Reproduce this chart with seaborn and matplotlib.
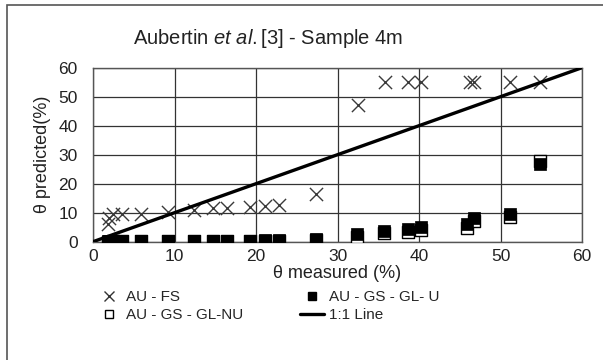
import matplotlib
matplotlib.use("Agg")
import matplotlib.pyplot as plt
import seaborn as sns
import pandas as pd
from matplotlib.lines import Line2D
from matplotlib.patches import Rectangle

# Data
fs_x = [1.8, 2.0, 2.4, 3.6, 5.9, 9.2, 12.4, 14.7, 16.4, 19.3, 21.1, 22.8, 27.4,
        32.5, 35.8, 38.7, 40.2, 46.2, 46.8, 51.2, 54.8]
fs_y = [6.0, 8.3, 9.4, 9.4, 9.4, 10.3, 10.8, 11.7, 11.7, 12.0, 12.3, 12.6, 16.6,
        47.0, 55.0, 55.0, 55.0, 55.0, 55.0, 55.0, 55.0]
u_x = [1.8, 2.0, 2.4, 3.6, 5.9, 9.2, 12.4, 14.7, 16.4, 19.3, 21.1, 22.8, 27.4,
       32.4, 35.7, 38.7, 40.2, 45.9, 46.8, 51.2, 54.8]
u_y = [0.2, 0.2, 0.3, 0.3, 0.3, 0.3, 0.3, 0.3, 0.3, 0.4, 0.5, 0.5, 1.1,
       2.5, 3.8, 4.5, 5.2, 6.0, 8.0, 9.5, 26.8]
nu_x = [1.8, 2.0, 2.4, 3.6, 5.9, 9.2, 12.4, 14.7, 16.4, 19.3, 21.1, 22.8, 27.4,
        32.4, 35.7, 38.7, 40.2, 45.9, 46.8, 51.2, 54.8]
nu_y = [0.0, 0.0, 0.1, 0.1, 0.1, 0.1, 0.1, 0.1, 0.1, 0.2, 0.2, 0.2, 0.6,
        1.6, 2.9, 3.5, 4.2, 4.8, 7.0, 8.6, 27.8]
line_x = [0, 60]
line_y = [0, 60]

sns.set_theme(style="white")
plt.rcParams['font.family'] = ['Liberation Sans', 'DejaVu Sans']
plt.rcParams['mathtext.fontset'] = 'custom'
plt.rcParams['mathtext.rm'] = 'Liberation Sans'
plt.rcParams['mathtext.it'] = 'Liberation Sans:italic'

fig = plt.figure(figsize=(6.03, 3.6), dpi=100)
ax = fig.add_axes([93/603, 1-241.7/360, (582-93)/603, (241.7-67.7)/360])

# outer frame (chart area, cropped at right and bottom)
fig.patches.append(Rectangle((7/603, -0.05), 1.2, 1-5/360+0.05, transform=fig.transFigure,
                             fill=False, edgecolor='#555555', linewidth=1.2))

df_fs = pd.DataFrame({'x': fs_x, 'y': fs_y})
df_u = pd.DataFrame({'x': u_x, 'y': u_y})
df_nu = pd.DataFrame({'x': nu_x, 'y': nu_y})
df_line = pd.DataFrame({'x': line_x, 'y': line_y})

sns.scatterplot(data=df_fs, x='x', y='y', ax=ax, marker='x', s=90, color='#3a3a3a',
                linewidth=1.0, zorder=3)
sns.scatterplot(data=df_nu, x='x', y='y', ax=ax, marker='s', s=70, facecolor='white',
                edgecolor='black', linewidth=1.0, zorder=4)
sns.scatterplot(data=df_u, x='x', y='y', ax=ax, marker='s', s=70, color='black',
                edgecolor='black', linewidth=0.5, zorder=5)
sns.lineplot(data=df_line, x='x', y='y', ax=ax, color='black', linewidth=2.4, zorder=6)

ax.set_xlim(0, 60)
ax.set_ylim(0, 60)
ax.set_xticks(range(0, 61, 10))
ax.set_yticks(range(0, 61, 10))
ax.grid(True, color='#333333', linewidth=0.9)
ax.set_axisbelow(True)
for sp in ax.spines.values():
    sp.set_color('#555555')
    sp.set_linewidth(1.0)
ax.tick_params(axis='both', length=0, labelsize=12.5, colors='#222222')
ax.tick_params(axis='x', pad=5)
ax.tick_params(axis='y', pad=11)

ax.set_xlabel('θ measured (%)', fontsize=13, color='#222222', labelpad=1)
ax.set_ylabel('θ predicted(%)', fontsize=13, color='#222222', labelpad=5)

fig.text(268/603, 1-38/360, 'Aubertin $\\mathit{et\\ al.}$[3] - Sample 4m', ha='center', va='center',
         fontsize=14.5, color='#222222')

handles = [
    Line2D([], [], marker='x', color='#333333', linestyle='None', markersize=7, markeredgewidth=1.0),
    Line2D([], [], marker='s', markerfacecolor='white', markeredgecolor='black', linestyle='None', markersize=6),
    Line2D([], [], marker='s', color='black', linestyle='None', markersize=6),
    Line2D([], [], color='black', linewidth=2.4),
]
labels = ['AU - FS', 'AU - GS - GL-NU', 'AU - GS - GL- U', '1:1 Line']
fig.legend(handles, labels, loc='center', bbox_to_anchor=(0.445, 1-306/360), ncol=2,
           frameon=False, fontsize=11, handlelength=1.6, handletextpad=0.3,
           columnspacing=3.7, labelspacing=0.25)

fig.savefig('out.png', dpi=100)
